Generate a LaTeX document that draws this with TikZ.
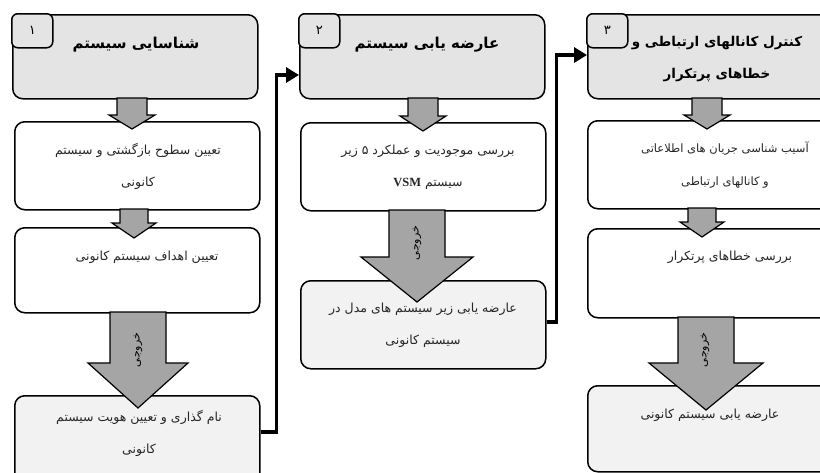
\documentclass[tikz,border=0pt]{standalone}
\usepackage{fontspec}
\newfontfamily\arabicfont[Script=Arabic]{DejaVu Sans}
\newfontfamily\latinserif{Liberation Serif}
\TeXXeTstate=1
\usetikzlibrary{arrows.meta,calc}
\definecolor{hgray}{RGB}{228,228,228}
\definecolor{lgray}{RGB}{242,242,242}
\definecolor{agray}{RGB}{165,165,165}
\newcommand\fa[1]{{\arabicfont\beginR #1\endR}}
\newcommand\barrow[7]{% name, xc, ytop, yhead, ytip, shaft half, head half
  \draw[blkarrow] (#2-#6,#3) -- (#2+#6,#3) -- (#2+#6,#4) -- (#2+#7,#4) -- (#2,#5) coordinate (#1) -- (#2-#7,#4) -- (#2-#6,#4) -- cycle;}
\begin{document}
\begin{tikzpicture}[x=1pt,y=-1pt,
  box/.style={draw=black, line width=1.5pt, rounded corners=10pt, anchor=north west, inner sep=0pt, minimum width=245pt},
  headbox/.style={box, fill=hgray, minimum height=84pt},
  whitebox/.style={box, fill=white},
  lightbox/.style={box, fill=lgray},
  numbox/.style={draw=black, line width=1.5pt, rounded corners=6pt, fill=hgray, anchor=north west, minimum width=41pt, minimum height=34pt, inner sep=0pt, font=\fontsize{13}{15}\selectfont},
  htext/.style={font=\fontsize{15}{32}\selectfont\bfseries, align=center, inner sep=0pt},
  htextsm/.style={font=\fontsize{13.5}{32}\selectfont\bfseries, align=center, inner sep=0pt},
  btext/.style={font=\fontsize{12.5}{32}\selectfont, align=center, inner sep=0pt, text=black!85},
  btextsm/.style={btext, font=\fontsize{11.5}{33}\selectfont},
  outtext/.style={font=\fontsize{11}{12}\selectfont, rotate=90, inner sep=0pt},
  blkarrow/.style={draw=black, line width=1.2pt, fill=agray, line join=miter},
  conn/.style={draw=black, line width=3.6pt, -{Triangle[length=13pt,width=15pt]}}
]
\clip (0,0) rectangle (820,472);
\useasboundingbox (0,0) rectangle (820,472);
\fill[white] (0,0) rectangle (820,472);

% column 1
\node[headbox] (h1) at (12,14) {};
\node[whitebox, minimum height=88pt] (a1) at (14,121) {};
\node[whitebox, minimum height=85pt] (b1) at (14,227) {};
\node[lightbox, minimum height=100pt] (c1) at (14,395) {};
\node[numbox] (n1) at (11,13) {\fa{۱}};
\node[htext] (th1) at (136,45) {\fa{شناسایی سیستم}};
\node[btext] (ta1) at (138,166) {\fa{تعیین سطوح بازگشتی و سیستم}\\\fa{کانونی}};
\node[btext] (tb1) at (147,257) {\fa{تعیین اهداف سیستم کانونی}};
\node[btext] (tc1) at (139,433) {\fa{نام گذاری و تعیین هویت  سیستم}\\\fa{کانونی}};

% column 2
\node[headbox] (h2) at (299,14) {};
\node[whitebox, minimum height=88pt] (a2) at (300,122) {};
\node[lightbox, minimum height=88pt] (b2) at (300,280) {};
\node[numbox] (n2) at (298,13) {\fa{۲}};
\node[htext] (th2) at (427,45) {\fa{عارضه یابی سیستم}};
\node[btext] (ta2) at (428,167) {\fa{بررسی موجودیت و عملکرد ۵ زیر}\\\fa{سیستم \beginL{\latinserif\bfseries VSM}\endL}};
\node[btext] (tb2) at (423,325) {\fa{عارضه یابی زیر سیستم های مدل در}\\\fa{سیستم کانونی}};

% column 3
\node[headbox] (h3) at (587,14) {};
\node[whitebox, minimum height=88pt] (a3) at (587,120) {};
\node[whitebox, minimum height=89pt] (b3) at (587,228) {};
\node[lightbox, minimum height=86pt] (c3) at (587,385) {};
\node[numbox] (n3) at (586,13) {\fa{۳}};
\node[htextsm] (th3) at (717,59) {\fa{کنترل کانالهای ارتباطی و}\\\fa{خطاهای پرتکرار}};
\node[btextsm] (ta3) at (725,165) {\fa{آسیب شناسی جریان های اطلاعاتی}\\\fa{و کانالهای ارتباطی}};
\node[btext] (tb3) at (730,257) {\fa{بررسی خطاهای پرتکرار}};
\node[btext] (tc3) at (710,415) {\fa{عارضه یابی سیستم کانونی}};

% block arrows
\barrow{p1}{132}{98}{115}{129}{15}{23}
\barrow{p2}{134}{209}{223}{238}{14}{22}
\barrow{p3}{138}{312}{363}{408}{28}{50}
\barrow{p4}{423}{98}{116}{131}{15}{23}
\barrow{p5}{417}{210}{257}{302}{28}{56}
\barrow{p6}{707}{98}{115}{129}{15}{23}
\barrow{p7}{702}{208}{222}{237}{14}{22}
\barrow{p8}{706}{317}{363}{410}{28}{57}
\node[outtext] (o1) at (138,350) {\fa{خروجی}};
\node[outtext] (o2) at (417,243) {\fa{خروجی}};
\node[outtext] (o3) at (705,350) {\fa{خروجی}};

% connectors
\draw[conn] ($(c1.north east)+(0,37)$) -- ++(16,0) coordinate (k1) -- ($(k1|-h2.north west)+(0,61)$) coordinate (k2) -- ($(h2.north west)+(0,61)$);
\draw[conn] ($(b2.north east)+(0,42)$) -- ++(10,0) coordinate (k3) -- ($(k3|-h3.north west)+(0,41)$) coordinate (k4) -- ($(h3.north west)+(0,41)$);
\end{tikzpicture}
\end{document}
